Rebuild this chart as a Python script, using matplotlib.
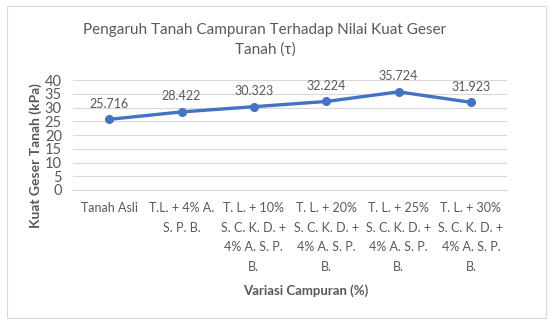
import matplotlib.pyplot as plt
from matplotlib.patches import Rectangle

plt.rcParams['font.family'] = ['Lato', 'DejaVu Sans']

categories = [
    'Tanah Asli',
    'T.L. + 4% A.\nS. P. B.',
    'T. L. + 10%\nS. C. K. D. +\n4% A. S. P.\nB.',
    'T. L. + 20%\nS. C. K. D. +\n4% A. S. P.\nB.',
    'T. L. + 25%\nS. C. K. D. +\n4% A. S. P.\nB.',
    'T. L. + 30%\nS. C. K. D. +\n4% A. S. P.\nB.',
]
kuat_geser = [25.716, 28.422, 30.323, 32.224, 35.724, 31.923]
y_ticks = [0, 5, 10, 15, 20, 25, 30, 35, 40]

text_color = '#595959'
line_color = '#4472C4'

fig = plt.figure(figsize=(5.53, 3.27), dpi=100)
fig.patch.set_facecolor('white')
# chart frame
fig.add_artist(Rectangle((0.012, 0.028), 0.976, 0.955, transform=fig.transFigure,
                         fill=False, edgecolor='#D9D9D9', linewidth=0.8))

ax = fig.add_axes([0.132, 0.419, 0.785, 0.336])
x = list(range(len(categories)))
ax.plot(x, kuat_geser, color=line_color, linewidth=2.4, marker='o',
        markersize=5.5, solid_capstyle='round')
for xi, v in zip(x, kuat_geser):
    ax.annotate(f'{v:.3f}', (xi, v), xytext=(0, 7), textcoords='offset points',
                ha='center', va='bottom', fontsize=9, color=text_color)

ax.set_xlim(-0.5, len(categories) - 0.5)
ax.set_ylim(0, 40)
ax.set_yticks(y_ticks)
ax.set_xticks(x)
ax.set_xticklabels(categories, fontsize=9, color=text_color, linespacing=1.75)
ax.tick_params(axis='y', labelsize=10.5, colors=text_color, length=0, pad=8)
ax.tick_params(axis='x', length=0, pad=9)
ax.grid(axis='y', color='#D9D9D9', linewidth=0.8)
ax.set_axisbelow(True)
for side in ['top', 'right', 'left']:
    ax.spines[side].set_visible(False)
ax.spines['bottom'].set_color('#D9D9D9')

fig.text(0.065, 0.523, 'Kuat Geser Tanah (kPa)', rotation=90, ha='center', va='center',
         fontsize=10, fontweight='bold', color=text_color)
fig.text(0.553, 0.112, 'Variasi Campuran (%)', ha='center', va='center',
         fontsize=9.5, fontweight='bold', color=text_color)
fig.text(0.479, 0.878, 'Pengaruh Tanah Campuran Terhadap Nilai Kuat Geser\nTanah (τ)',
         ha='center', va='center', fontsize=11, color=text_color, linespacing=1.5)

fig.savefig('out.png', dpi=100)
